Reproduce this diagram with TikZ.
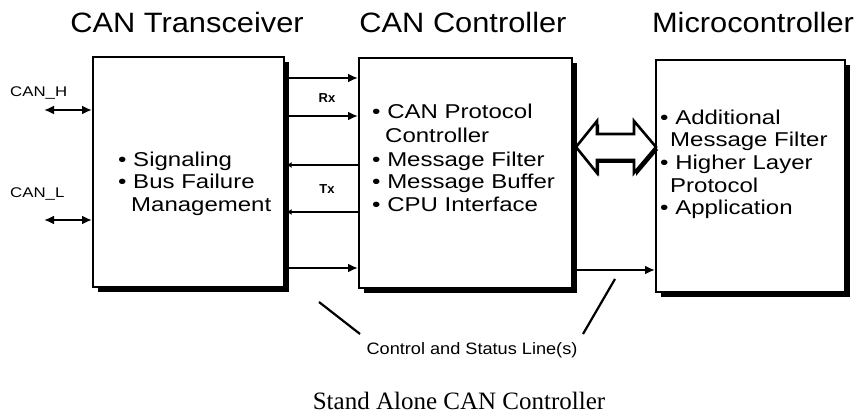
\documentclass[tikz,border=0pt]{standalone}
\usepackage{fontspec}
\setmainfont{Liberation Sans}
\newfontfamily\bodyfont[FakeStretch=1.2]{Liberation Sans}
\newfontfamily\notefont[FakeStretch=1.1]{Liberation Sans}
\newfontfamily\headfont[FakeStretch=1.1]{Liberation Sans}
\newfontfamily\capfont{Liberation Serif}
\usetikzlibrary{arrows.meta,shadows}

\tikzset{
  bigtip/.tip={Latex[length=10pt,width=9pt]},
  smalltip/.tip={Latex[length=5pt,width=6pt]}
}

\begin{document}
\begin{tikzpicture}[x=1pt,y=-1pt,
  block/.style={draw=black, line width=1.6pt, fill=white, inner sep=0pt,
    anchor=north west,
    drop shadow={shadow xshift=5pt, shadow yshift=-5pt, opacity=1, fill=black}},
  heading/.style={font=\headfont\fontsize{28}{30}\selectfont, anchor=base, inner sep=0pt},
  item/.style={font=\bodyfont\fontsize{20}{23}\selectfont, anchor=base west, inner sep=0pt},
  pin/.style={font=\bodyfont\fontsize{14}{16}\selectfont, anchor=base west, inner sep=0pt},
  bus/.style={font=\bfseries\fontsize{13}{15}\selectfont, anchor=base, inner sep=0pt},
  sig/.style={line width=2.2pt},
  lead/.style={line width=2.2pt}
]
\useasboundingbox (0,0) rectangle (860,414);

% headings
\node[heading] (hTrx)  at (187,33) {CAN Transceiver};
\node[heading] (hCtrl) at (463,33) {CAN Controller};
\node[heading] (hMcu)  at (753,33) {Microcontroller};

% the three blocks
\node[block, minimum width=191pt, minimum height=230pt] (trx)  at (92,56)  {};
\node[block, minimum width=213pt, minimum height=230pt] (ctrl) at (358,57) {};
\node[block, minimum width=189pt, minimum height=232pt] (mcu)  at (655,59) {};

% transceiver functions
\node[item] (t1) at (118,167) {• Signaling};
\node[item] (t2) at (118,189) {• Bus Failure};
\node[item] (t3) at (131,212) {Management};

% controller functions
\node[item] (c1) at (372,119) {• CAN Protocol};
\node[item] (c2) at (385,143) {Controller};
\node[item] (c3) at (372,167) {• Message Filter};
\node[item] (c4) at (372,189) {• Message Buffer};
\node[item] (c5) at (372,212) {• CPU Interface};

% microcontroller functions
\node[item] (m1) at (660,125) {• Additional};
\node[item] (m2) at (670,147) {Message Filter};
\node[item] (m3) at (660,170) {• Higher Layer};
\node[item] (m4) at (670,193) {Protocol};
\node[item] (m5) at (660,215) {• Application};

% bus lines
\node[pin] (canHlbl) at (10,97)  {CAN\_H};
\node[pin] (canLlbl) at (10,198) {CAN\_L};
\coordinate (canH) at (44,110);
\coordinate (canL) at (44,220);
\draw[sig, {bigtip}-{bigtip}] (canH) -- (trx.west |- canH);
\draw[sig, {bigtip}-{bigtip}] (canL) -- (trx.west |- canL);

% receive path
\draw[sig, -{bigtip}] (trx.east |- 0,78)  -- (ctrl.west |- 0,78);
\draw[sig, -{bigtip}] (trx.east |- 0,116) -- (ctrl.west |- 0,116);
\node[bus] (rx) at (327,103) {Rx};

% transmit path
\draw[sig, {smalltip}-] ([xshift=2pt]trx.east |- 0,165) -- (ctrl.west |- 0,165);
\draw[sig, {smalltip}-] ([xshift=2pt]trx.east |- 0,212) -- (ctrl.west |- 0,212);
\node[bus] (tx) at (327,194) {Tx};

% control and status lines
\draw[sig, -{bigtip}] (trx.east |- 0,268)  -- (ctrl.west |- 0,268);
\draw[sig, -{bigtip}] ([xshift=4pt]ctrl.east |- 0,270) -- (mcu.west |- 0,270);

% data bus between controller and microcontroller
\fill[black] (578,150) -- (599,124) -- (599,137) -- (636,137) -- (636,124)
  -- (658,150) -- (636,176) -- (636,163) -- (599,163) -- (599,176) -- cycle;
\draw[line width=2.6pt, fill=white, line join=miter]
  (576,147) -- (597,121) -- (597,134) -- (634,134) -- (634,121)
  -- (656,147) -- (634,173) -- (634,160) -- (597,160) -- (597,173) -- cycle;

% annotation
\node[font=\notefont\fontsize{16.5}{18}\selectfont, anchor=base, inner sep=0pt]
  (ctl) at (472,354) {Control and Status Line(s)};
\coordinate (leadA) at (319,302);
\coordinate (leadB) at (615,279);
\draw[lead] (leadA) -- (360,334);
\draw[lead] (leadB) -- (583,334);

% caption
\node[font=\capfont\fontsize{25}{27}\selectfont, anchor=base, inner sep=0pt]
  (caption) at (459,409) {Stand Alone CAN Controller};
\end{tikzpicture}
\end{document}
